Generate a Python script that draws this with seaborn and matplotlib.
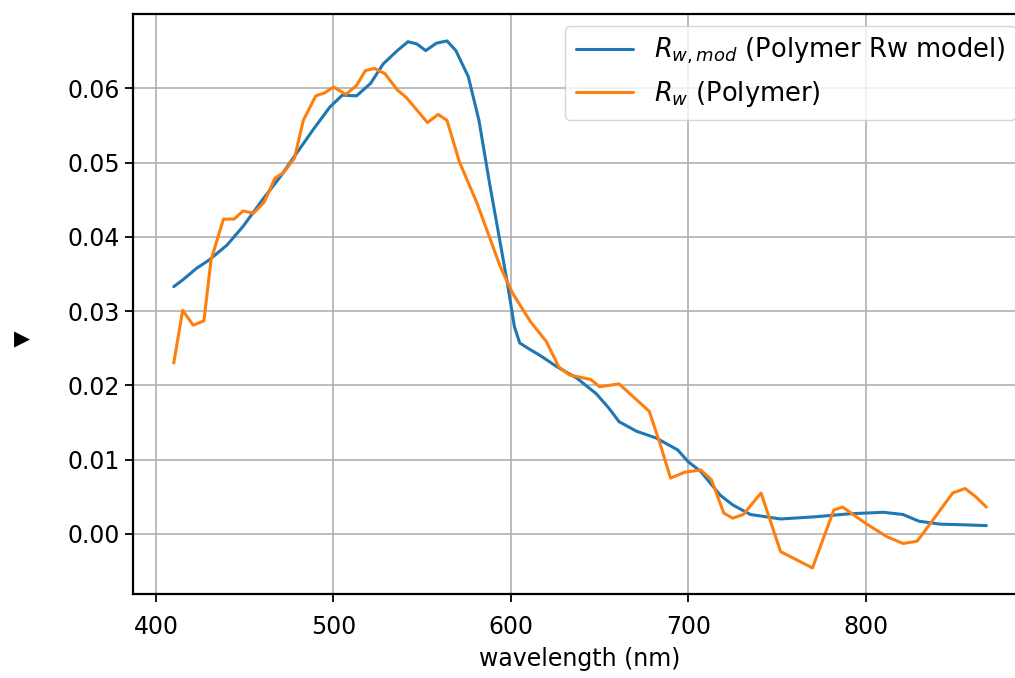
import numpy as np
import pandas as pd
import seaborn as sns
from matplotlib import pyplot as plt

# model curve (Polymer Rw model)
wl_mod = [410, 415, 423, 430, 440, 449, 460, 470, 479, 489, 498, 505, 513, 521, 528,
          536, 542, 547, 552, 558, 564, 569, 576, 582, 588, 594, 598, 602, 605, 611,
          616, 626, 637, 648, 655, 661, 671, 682, 694, 700, 707, 718, 725, 735, 752,
          772, 791, 810, 821, 830, 842, 857, 868]
rw_mod = [0.0333, 0.0342, 0.0358, 0.0369, 0.0389, 0.0414, 0.0450, 0.0481, 0.0512, 0.0546,
          0.0575, 0.0591, 0.0590, 0.0607, 0.0633, 0.0651, 0.0663, 0.0660, 0.0651, 0.0661,
          0.0664, 0.0651, 0.0616, 0.0557, 0.0472, 0.0392, 0.0338, 0.0279, 0.0257, 0.0248,
          0.0241, 0.0225, 0.0210, 0.0189, 0.0170, 0.0151, 0.0138, 0.0129, 0.0113, 0.0097,
          0.0084, 0.0052, 0.0039, 0.0026, 0.0020, 0.0023, 0.0027, 0.0029, 0.0026, 0.0017,
          0.0013, 0.0012, 0.0011]

# measured curve (Polymer)
wl_obs = [410, 415, 421, 427, 431, 438, 444, 449, 455, 461, 467, 472, 478, 483, 490,
          495, 500, 507, 513, 518, 523, 529, 536, 541, 553, 559, 564, 571, 581, 594,
          601, 611, 620, 627, 633, 645, 650, 661, 678, 684, 690, 698, 707, 713, 720,
          725, 731, 741, 752, 770, 782, 787, 800, 812, 821, 829, 838, 849, 856, 862, 868]
rw_obs = [0.0230, 0.0301, 0.0281, 0.0287, 0.0369, 0.0424, 0.0424, 0.0435, 0.0432, 0.0447,
          0.0479, 0.0487, 0.0506, 0.0557, 0.0590, 0.0594, 0.0602, 0.0592, 0.0604, 0.0624,
          0.0627, 0.0620, 0.0598, 0.0588, 0.0554, 0.0565, 0.0557, 0.0501, 0.0445, 0.0360,
          0.0324, 0.0286, 0.0259, 0.0225, 0.0214, 0.0208, 0.0198, 0.0202, 0.0165, 0.0122,
          0.0075, 0.0083, 0.0086, 0.0073, 0.0028, 0.0021, 0.0026, 0.0055, -0.0024, -0.0046,
          0.0032, 0.0036, 0.0014, -0.0004, -0.0013, -0.0010, 0.0019, 0.0055, 0.0061, 0.0050,
          0.0036]

sns.set_style("ticks", {"axes.grid": True, "grid.color": "#b0b0b0", "axes.edgecolor": "black",
                        "text.color": "black", "axes.labelcolor": "black",
                        "xtick.color": "black", "ytick.color": "black"})
plt.rcParams['font.family'] = ['DejaVu Sans']

fig = plt.figure(figsize=(10.15, 6.78), dpi=100)
ax = fig.add_axes([0.131, 0.124, 0.881, 0.855])

df_mod = pd.DataFrame({'wl': wl_mod, 'rw': rw_mod})
df_obs = pd.DataFrame({'wl': wl_obs, 'rw': rw_obs})
sns.lineplot(x='wl', y='rw', data=df_mod, color='#1f77b4', linewidth=2.2,
             label=r'$R_{w, mod}$ (Polymer Rw model)', ax=ax)
sns.lineplot(x='wl', y='rw', data=df_obs, color='#ff7f0e', linewidth=2.2,
             label=r'$R_w$ (Polymer)', ax=ax)

ax.set_xlim(387, 891)
ax.set_ylim(-0.0081, 0.070)
ax.set_xticks([400, 500, 600, 700, 800])
ax.set_yticks(np.arange(0, 0.061, 0.01))
ax.set_yticklabels(['0.00', '0.01', '0.02', '0.03', '0.04', '0.05', '0.06'])
ax.tick_params(labelsize=17, width=1.3, length=6)
ax.tick_params(axis='x', pad=9)
ax.set_xlabel('wavelength (nm)', fontsize=17, labelpad=6)
ax.set_ylabel('')
for sp in ax.spines.values():
    sp.set_linewidth(1.6)
ax.grid(True, linewidth=1.2)
ax.legend(loc='upper right', fontsize=18.5, framealpha=0.8, edgecolor='#cccccc',
          handlelength=2.25, borderaxespad=0.45)

fig.text(22 / 1015, 1 - 339 / 678, '\u25b6', fontsize=15, ha='center', va='center')

fig.savefig('out.png', dpi=100)
